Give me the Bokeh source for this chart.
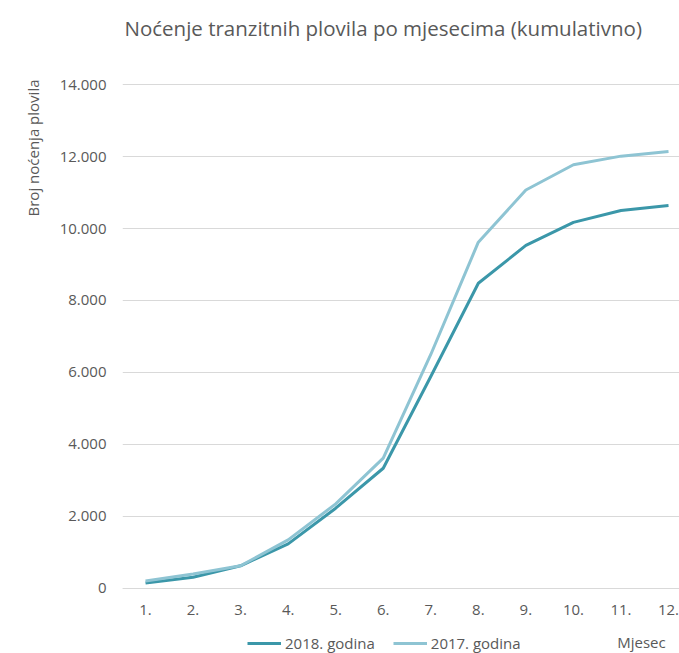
from bokeh.plotting import figure
from bokeh.models import Range1d, Legend, LegendItem, FixedTicker, Title, Label
from bokeh.embed import file_html
from bokeh.resources import INLINE

months = [1, 2, 3, 4, 5, 6, 7, 8, 9, 10, 11, 12]
month_labels = ["1.", "2.", "3.", "4.", "5.", "6.", "7.", "8.", "9.", "10.", "11.", "12."]
y2018 = [150, 310, 630, 1240, 2230, 3340, 5890, 8480, 9530, 10170, 10500, 10640]
y2017 = [210, 400, 630, 1350, 2350, 3620, 6500, 9620, 11070, 11770, 12010, 12140]
y_ticks = [0, 2000, 4000, 6000, 8000, 10000, 12000, 14000]
y_tick_labels = ["0", "2.000", "4.000", "6.000", "8.000", "10.000", "12.000", "14.000"]

title_text = "Noćenje tranzitnih plovila po mjesecima (kumulativno)"
ylabel_text = "Broj noćenja plovila"
xlabel_text = "Mjesec"
series_names = ["2018. godina", "2017. godina"]

FONT = "Open Sans"
TXT = "#595959"
DARK = "#3B97A9"
LIGHT = "#8EC4D3"

# The frame covers the canvas from y=20 down to the bottom edge, so that the
# title, legend and x title can be drawn inside it; the value axis shows 0..14.000.
p = figure(width=679, height=653, output_backend="svg", toolbar_location=None,
           x_range=Range1d(0.516, 12.231), y_range=Range1d(-1806, 15778),
           x_axis_location="above",
           min_border_left=122, min_border_right=0, min_border_top=20, min_border_bottom=0)
p.outline_line_color = None
p.background_fill_color = "white"
p.border_fill_color = "white"

r18 = p.line(months, y2018, line_color=DARK, line_width=3, line_join="round")
r17 = p.line(months, y2017, line_color=LIGHT, line_width=3, line_join="round")

p.xgrid.grid_line_color = None
p.ygrid.grid_line_color = "#D9D9D9"
p.ygrid.grid_line_width = 1
p.ygrid.ticker = FixedTicker(ticks=y_ticks)

# category axis drawn at y = 0
p.xaxis.fixed_location = 0
p.xaxis.ticker = FixedTicker(ticks=months)
p.xaxis.major_label_overrides = {m: l for m, l in zip(months, month_labels)}
p.xaxis.axis_line_color = "#D9D9D9"
p.xaxis.major_tick_line_color = None
p.xaxis.minor_tick_line_color = None
p.xaxis.major_tick_out = 0
p.xaxis.major_tick_in = 0
p.xaxis.major_label_standoff = -27
p.xaxis.major_label_text_font = FONT
p.xaxis.major_label_text_font_size = "15px"
p.xaxis.major_label_text_color = TXT

p.yaxis.ticker = FixedTicker(ticks=y_ticks)
p.yaxis.major_label_overrides = {t: l for t, l in zip(y_ticks, y_tick_labels)}
p.yaxis.axis_line_color = None
p.yaxis.major_tick_line_color = None
p.yaxis.minor_tick_line_color = None
p.yaxis.major_tick_out = 0
p.yaxis.major_tick_in = 0
p.yaxis.major_label_standoff = 16
p.yaxis.major_label_text_font = FONT
p.yaxis.major_label_text_font_size = "15px"
p.yaxis.major_label_text_color = TXT

ytitle = Title(text=ylabel_text, align="right", offset=59, standoff=27,
               text_font=FONT, text_font_size="15px", text_font_style="normal",
               text_color=TXT)
p.add_layout(ytitle, "left")

p.add_layout(Label(x=2, y=626, x_units="screen", y_units="screen", text=title_text,
                   text_align="left", text_baseline="middle", text_font=FONT,
                   text_font_size="20.5px", text_color=TXT))

p.add_layout(Label(x=519, y=12, x_units="screen", y_units="screen", text=xlabel_text,
                   text_align="center", text_baseline="middle", text_font=FONT,
                   text_font_size="15px", text_color=TXT))

legend = Legend(items=[LegendItem(label=series_names[0], renderers=[r18]),
                       LegendItem(label=series_names[1], renderers=[r17])],
                location=(125, 0), orientation="horizontal",
                padding=0, margin=0, spacing=18, glyph_width=34, glyph_height=16,
                label_standoff=4, border_line_color=None, background_fill_alpha=0,
                label_text_font=FONT, label_text_font_size="15px", label_text_color=TXT)
p.add_layout(legend, "center")

open("out.html", "w").write(file_html(p, INLINE))
